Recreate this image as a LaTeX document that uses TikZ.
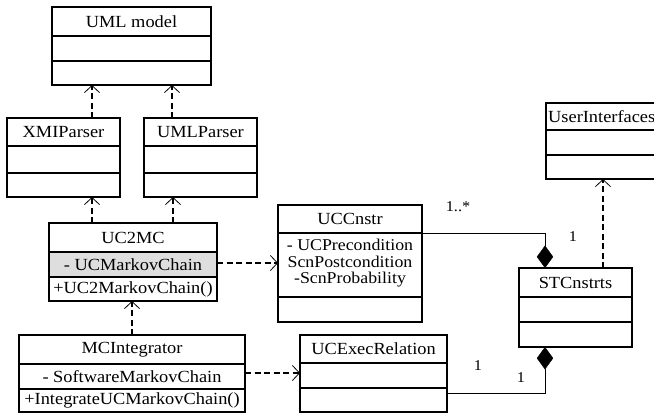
\documentclass[tikz,border=0pt]{standalone}
\usepackage{fontspec}
\setmainfont{Liberation Serif}[FakeStretch=1.08]
\usetikzlibrary{arrows.meta,shapes.geometric}
\tikzset{
  x=1pt,y=-1pt,
  cls/.style={draw,line width=1.1pt,anchor=north west,inner sep=0pt,outer sep=0pt},
  divider/.style={line width=1.1pt},
  lbl/.style={inner sep=0pt,font=\fontsize{17}{17}\selectfont},
  blbl/.style={inner sep=0pt,anchor=base,font=\fontsize{16.5}{16.5}\selectfont},
  dep/.style={line width=1.6pt,dash pattern=on 6pt off 3.5pt,-{Straight Barb[length=7pt,width=15pt,line width=0.8pt]}},
  assoc/.style={line width=0.8pt},
  comp/.style={fill=black,draw=black,diamond,aspect=0.7,minimum width=16pt,minimum height=22pt,inner sep=0pt},
  mult/.style={inner sep=0pt,font=\fontsize{15}{15}\selectfont},
}
\newcommand\classbox[7]{% name, x1,y1,x2,y2, d1, d2
  \node[cls,minimum width=#4-#2,minimum height=#5-#3] (#1) at (#2,#3) {};
  \draw[divider] (#2,#6) -- (#4,#6);
  \draw[divider] (#2,#7) -- (#4,#7);
}
\begin{document}
\begin{tikzpicture}
\useasboundingbox (0,0) rectangle (654,413);
% classes
\classbox{um}{52}{7}{211}{85}{36}{61}
\classbox{xmi}{7}{118}{120}{197}{146}{173}
\classbox{uml}{144}{118}{257}{197}{146}{173}
\fill[black!13] (49,252) rectangle (217,277);
\classbox{uc}{49}{223}{217}{301}{252}{277}
\classbox{mci}{19}{335}{245}{412}{364}{389}
\classbox{ucc}{278}{205}{422}{322}{233}{297}
\classbox{uce}{300}{335}{447}{412}{363}{388}
\classbox{stc}{519}{268}{632}{347}{297}{322}
\classbox{ui}{546}{103}{662}{179}{130}{155}
% texts
\node[lbl] (tum) at (131.5,21.5) {UML model};
\node[lbl] (txmi) at (63.5,132) {XMIParser};
\node[lbl] (tuml) at (200.5,132) {UMLParser};
\node[lbl] (tuc) at (133,237.5) {UC2MC};
\node[lbl] (tuca) at (133,264.5) {- UCMarkovChain};
\node[lbl] (tucm) at (133,289) {+UC2MarkovChain()};
\node[lbl] (tmci) at (132,349.5) {MCIntegrator};
\node[lbl] (tmcia) at (132,376.5) {- SoftwareMarkovChain};
\node[lbl] (tmcim) at (132,400.5) {+IntegrateUCMarkovChain()};
\node[lbl] (tucc) at (350,219) {UCCnstr};
\node[blbl] (tucc1) at (350,250) {- UCPrecondition};
\node[blbl] (tucc2) at (350,267) {ScnPostcondition};
\node[blbl] (tucc3) at (350,283.5) {-ScnProbability};
\node[lbl] (tuce) at (373.5,349) {UCExecRelation};
\node[lbl] (tstc) at (575.5,282.5) {STCnstrts};
\node[lbl,anchor=west] (tui) at (548,116.5) {UserInterfaces};
% dependencies
\draw[dep] (xmi.north -| 92,0) -- (um.south -| 92,0);
\draw[dep] (uml.north -| 172,0) -- (um.south -| 172,0);
\draw[dep] (uc.north -| 92,0) -- (xmi.south -| 92,0);
\draw[dep] (uc.north -| 173,0) -- (uml.south -| 173,0);
\draw[dep] (mci.north -| 132,0) -- (uc.south -| 132,0);
\draw[dep] (uc.east |- 0,263) -- (ucc.west |- 0,263);
\draw[dep] (mci.east |- 0,373) -- (uce.west |- 0,373);
\draw[dep] (stc.north -| 603,0) -- (ui.south -| 603,0);
% compositions
\node[comp,anchor=south] (d1) at (stc.north -| 545,0) {};
\node[comp,anchor=north] (d2) at (stc.south -| 545,0) {};
\draw[assoc] (ucc.east |- 0,233) -| (d1.north);
\draw[assoc] (uce.east |- 0,393) -| (d2.south);
\node[mult] (m1) at (458,207) {1..*};
\node[mult] (m2) at (573,237) {1};
\node[mult] (m3) at (478,366) {1};
\node[mult] (m4) at (521,378) {1};
\end{tikzpicture}
\end{document}
